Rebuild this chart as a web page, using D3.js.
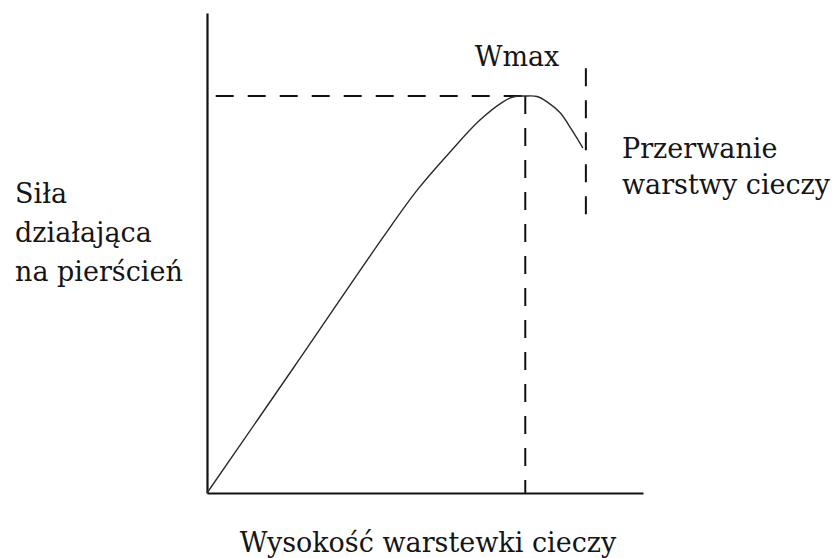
<!DOCTYPE html>
<html>
<head>
<meta charset="utf-8">
<script src="https://cdn.jsdelivr.net/npm/d3@7"></script>
<style>
  html, body { margin: 0; padding: 0; background: #fff; }
  svg { display: block; }
  text { font-family: "DejaVu Serif", serif; fill: #151515; }
</style>
</head>
<body>
<svg id="chart" width="833" height="558"></svg>
<script>
// Force on the ring vs. height of the liquid film (arbitrary units 0–100)
const filmHeight = [0, 20.0, 40.4, 48.2, 55.7, 62.6, 67.9, 70.2, 73.0, 75.7, 78.0, 81.0, 83.7, 86.2];
const ringForce  = [0, 26.3, 53.3, 63.1, 71.0, 77.7, 81.5, 82.5, 82.7, 82.6, 81.5, 79.2, 75.6, 71.9];

// Maximum force and the film rupture point
const wmaxPoint = { x: 73.0, y: 82.7 };
const wmaxLineStart = 2;
const rupture = { x: 86.9, yTop: 88.5, yBottom: 55.4 };

// Labels
const labelWmax = "Wmax";
const labelRupture = ["Przerwanie", "warstwy cieczy"];
const labelY = ["Siła", "działająca", "na pierścień"];
const labelX = "Wysokość warstewki cieczy";

const svg = d3.select("#chart");
const origin = { x: 207, y: 493 };
const x = d3.scaleLinear().domain([0, 100]).range([origin.x, 643]);
const y = d3.scaleLinear().domain([0, 100]).range([origin.y, 13]);

// Axes: plain lines without ticks
svg.append("g")
  .attr("transform", `translate(0,${origin.y})`)
  .call(d3.axisBottom(x).tickValues([]).tickSizeOuter(0))
  .call(g => g.select(".domain").attr("stroke", "#111").attr("stroke-width", 2.2));
svg.append("g")
  .attr("transform", `translate(${origin.x},0)`)
  .call(d3.axisLeft(y).tickValues([]).tickSizeOuter(0))
  .call(g => g.select(".domain").attr("stroke", "#111").attr("stroke-width", 2.2));

const dash = "18,14";

// Guide lines to the maximum
svg.append("line")
  .attr("x1", x(wmaxLineStart)).attr("x2", x(wmaxPoint.x))
  .attr("y1", y(wmaxPoint.y)).attr("y2", y(wmaxPoint.y))
  .attr("stroke", "#111").attr("stroke-width", 2).attr("stroke-dasharray", dash);
svg.append("line")
  .attr("x1", x(wmaxPoint.x)).attr("x2", x(wmaxPoint.x))
  .attr("y1", y(wmaxPoint.y)).attr("y2", y(0))
  .attr("stroke", "#111").attr("stroke-width", 2).attr("stroke-dasharray", dash);

// Rupture marker
svg.append("line")
  .attr("x1", x(rupture.x)).attr("x2", x(rupture.x))
  .attr("y1", y(rupture.yTop)).attr("y2", y(rupture.yBottom))
  .attr("stroke", "#111").attr("stroke-width", 2).attr("stroke-dasharray", dash);

// Force curve
const pts = filmHeight.map((h, i) => [h, ringForce[i]]);
svg.append("path")
  .datum(pts)
  .attr("fill", "none")
  .attr("stroke", "#2a2a2a")
  .attr("stroke-width", 1.4)
  .attr("d", d3.line().x(d => x(d[0])).y(d => y(d[1])).curve(d3.curveCatmullRom.alpha(0.5)));

// Text labels
const fs = 27;
svg.append("text")
  .attr("x", 517).attr("y", 66)
  .attr("text-anchor", "middle").attr("font-size", fs)
  .text(labelWmax);

svg.append("g").selectAll("text").data(labelRupture).join("text")
  .attr("x", 622).attr("y", (d, i) => 158 + i * 36)
  .attr("font-size", fs)
  .text(d => d);

svg.append("g").selectAll("text").data(labelY).join("text")
  .attr("x", 15).attr("y", (d, i) => 203 + i * 39)
  .attr("font-size", fs)
  .text(d => d);

svg.append("text")
  .attr("x", 428).attr("y", 552)
  .attr("text-anchor", "middle").attr("font-size", fs)
  .text(labelX);
</script>
</body>
</html>
